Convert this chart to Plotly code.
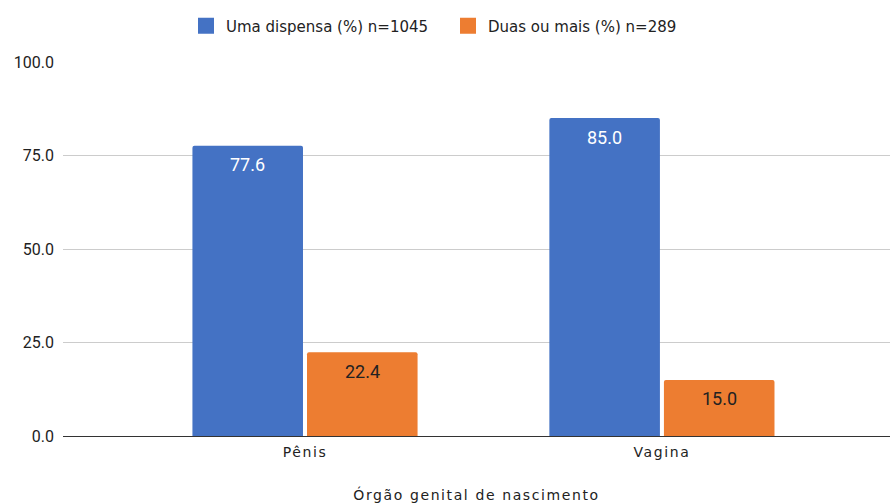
import plotly.graph_objects as go

categories = ["Pênis", "Vagina"]
uma_dispensa = [77.6, 85.0]
duas_ou_mais = [22.4, 15.0]
series_names = ["Uma dispensa (%) n=1045", "Duas ou mais (%) n=289"]
series_colors = ["#4472c4", "#ed7d31"]
y_ticks = [0, 25, 50, 75, 100]

TXT = "#222222"
BARGAP = 0.358
fig = go.Figure()
for vals, name, col in zip([uma_dispensa, duas_ou_mais], series_names, series_colors):
    fig.add_trace(go.Bar(
        x=categories, y=vals, name=name, showlegend=False,
        marker=dict(color=col, line=dict(width=0)), hoverinfo="skip",
    ))
# legend entries with square swatches
for name, col in zip(series_names, series_colors):
    fig.add_trace(go.Scatter(
        x=[None], y=[None], mode="markers", name=name,
        marker=dict(symbol="square", size=16, color=col),
    ))

# value labels near the top inside each bar
half = (1 - BARGAP) / 4
for vals, sign, col in [(uma_dispensa, -1, "#ffffff"), (duas_ou_mais, 1, TXT)]:
    for i, v in enumerate(vals):
        fig.add_annotation(
            x=i + sign * half, y=v, xref="x", yref="y", text=f"{v:.1f}",
            showarrow=False, yanchor="middle", yshift=-19,
            font=dict(family="Roboto", size=18, color=col),
        )

fig.update_layout(
    width=890, height=504,
    margin=dict(l=63, r=0, t=62, b=68),
    paper_bgcolor="white", plot_bgcolor="white",
    barmode="group", bargap=BARGAP, bargroupgap=0.035,
    barcornerradius=2,
    legend=dict(orientation="h", x=186 / 890, xref="container", xanchor="left",
                y=1 - 26 / 504, yref="container", yanchor="middle",
                font=dict(family="DejaVu Sans", size=15, color=TXT),
                itemwidth=30, entrywidth=217, traceorder="normal"),
    font=dict(family="DejaVu Sans", size=14, color=TXT),
)
fig.update_xaxes(
    type="category", automargin=False,
    range=[-0.678, 1.639], showgrid=False, showline=False, zeroline=False,
    ticks="", ticklabelstandoff=6,
    tickfont=dict(family="DejaVu Sans", size=14, color=TXT),
    title=dict(text="Órgão genital de nascimento", standoff=31,
               font=dict(family="DejaVu Sans", size=14, color=TXT)),
)
fig.update_yaxes(
    range=[0, 100], tickvals=y_ticks, tickformat=".1f",
    showgrid=True, gridcolor="#cccccc", gridwidth=1,
    zeroline=True, zerolinecolor="#333333", zerolinewidth=1,
    ticks="", ticklabelstandoff=8,
    tickfont=dict(family="Roboto", size=16, color=TXT),
)

post = (
    "document.body.style.margin='0';document.body.style.overflow='hidden';"
    "document.querySelectorAll('.xtick text, .g-xtitle text').forEach(function(t){t.style.letterSpacing='1.6px';});"
)
fig.write_html("out.html", post_script=post, config={"displayModeBar": False})
